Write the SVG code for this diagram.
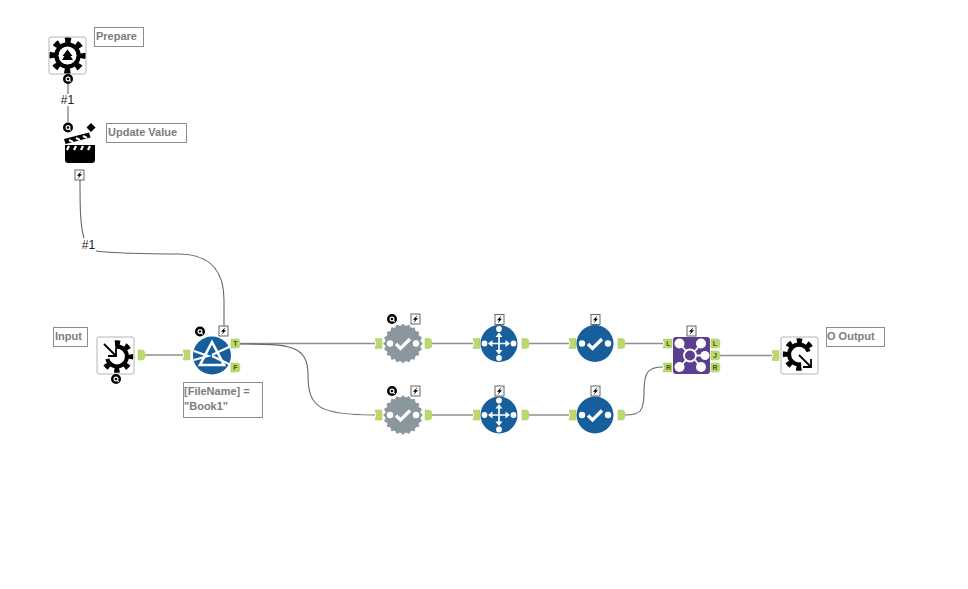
<svg xmlns="http://www.w3.org/2000/svg" width="968" height="589" viewBox="0 0 968 589">
<style>
.note{fill:#fff;stroke:#8c8c8c;stroke-width:1}
.notetext{font:bold 11px "Liberation Sans",sans-serif;fill:#7c7c7c}
.tile{fill:#fff;stroke:#b4b4b4;stroke-width:1}
.wire{fill:none;stroke:#8f8f8f;stroke-width:1.300}
.dark{stroke:#666;stroke-width:1.100}
.conn{fill:#bcd86f;stroke:#a9c85a;stroke-width:.5}
.ctext{font:bold 7px "Liberation Sans",sans-serif;fill:#3d5a12;text-anchor:middle}
.wl{font:12px "Liberation Sans",sans-serif;fill:#222;text-anchor:middle}
.blue{fill:#175e9c}
.grey{fill:#8b979f}
.w{stroke:#fff;fill:none;stroke-width:3.200}
.wf{fill:#fff}
</style>
<defs>
<g id="q"><circle r="5" fill="#000"/><circle r="1.900" fill="none" stroke="#fff" stroke-width="1.200"/><path d="M.8 .8L2.800 2.800" stroke="#fff" stroke-width="1.100"/></g>
<g id="bolt"><rect x="-4.500" y="-5" width="9" height="10" fill="#fff" stroke="#555" stroke-width=".9"/><path d="M2-4L-2.600 .8H-.3L-2 4L2.600-.8H.3Z" fill="#000"/></g>
<path id="in" d="M0-5H7V5H0L1.500 0Z" class="conn"/>
<path id="out" d="M0-5H4Q7-5 7 0Q7 5 4 5H0Z" class="conn"/>
<path id="tag" d="M0-4.600H6.500Q9-4.600 9 0Q9 4.600 6.500 4.600H0Z" class="conn"/>
<g id="check"><path d="M-7 .5L-2.500 5L7-4.500" class="w"/><circle cx="-13" r="3.200" class="wf"/><circle cx="13" r="3.200" class="wf"/></g>
<g id="hub"><g stroke="#fff" stroke-width="1.700" fill="none"><path d="M-10 0H10M0-10V10"/></g><path class="wf" d="M0-11L3.500-6.500H-3.500ZM0 11L3.500 6.500H-3.500ZM-11 0L-6.500-3.500V3.500ZM11 0L6.500-3.500V3.500Z"/><circle cx="-14.500" r="2.900" class="wf"/><circle cx="14.500" r="2.900" class="wf"/><circle cy="-14.500" r="2.900" class="wf"/><circle cy="14.500" r="2.900" class="wf"/></g>
<g id="cog" fill="none" stroke="#000"><circle r="11" stroke-width="4.500"/><circle r="15" stroke-width="6" stroke-dasharray="5.800 5.981" stroke-dashoffset="2.900"/></g>
<g id="badge"><circle r="18" class="grey"/><g class="grey"><circle r="1.600" cx="18" cy="0"/><circle r="1.600" cx="17.100" cy="5.600"/><circle r="1.600" cx="14.600" cy="10.600"/><circle r="1.600" cx="10.600" cy="14.600"/><circle r="1.600" cx="5.600" cy="17.100"/><circle r="1.600" cx="0" cy="18"/><circle r="1.600" cx="-5.600" cy="17.100"/><circle r="1.600" cx="-10.600" cy="14.600"/><circle r="1.600" cx="-14.600" cy="10.600"/><circle r="1.600" cx="-17.100" cy="5.600"/><circle r="1.600" cx="-18" cy="0"/><circle r="1.600" cx="-17.100" cy="-5.600"/><circle r="1.600" cx="-14.600" cy="-10.600"/><circle r="1.600" cx="-10.600" cy="-14.600"/><circle r="1.600" cx="-5.600" cy="-17.100"/><circle r="1.600" cx="0" cy="-18"/><circle r="1.600" cx="5.600" cy="-17.100"/><circle r="1.600" cx="10.600" cy="-14.600"/><circle r="1.600" cx="14.600" cy="-10.600"/><circle r="1.600" cx="17.100" cy="-5.600"/></g></g>
</defs>

<g id="connectors">
<path class="wire dark" d="M68 84V94M68 106V122"/>
<path class="wire dark" d="M80 180C80 205 80 225 84 238M96 251C120 254 150 254 180 254C212 255 224 272 224 300V326"/>
<path class="wire" d="M145 355H183"/>
<path class="wire" d="M240 343.500H375"/>
<path class="wire dark" d="M240 344C290 344 308 345 308 375C308 408 320 415 375 415"/>
<path class="wire" d="M432 343.500H473M529 343.500H569M625 343.500H663"/>
<path class="wire" d="M432 415H473M529 415H569"/>
<path class="wire dark" d="M625 415C640 415 644 412 644 392C644 372 648 367 663 367"/>
<path class="wire" d="M720 355.500H772"/>
<text class="wl" x="67.500" y="104">#1</text>
<text class="wl" x="88.500" y="249">#1</text>
</g>

<g id="prepare">
<rect class="tile" x="49" y="37" width="37" height="37" rx="2"/>
<use href="#cog" x="67.500" y="55.500"/>
<circle cx="67.500" cy="55.500" r="9" fill="#fff"/>
<path d="M67.500 49.500L72.500 56H70.500L73 60H62L64.500 56H62.500Z" fill="#000"/>
<use href="#q" x="68" y="79"/>
<rect class="note" x="94.500" y="27.500" width="49" height="19"/>
<text class="notetext" x="96" y="40">Prepare</text>
</g>

<g id="update-value">
<use href="#q" x="68" y="127.500"/>
<path d="M91 123L95.500 127.500 91 132 86.500 127.500Z" fill="#000"/>
<path d="M64 139L89 132.500 90.500 137.500 65.500 144Z" fill="#000"/>
<path d="M69 140L73 142M76 138L80 140M83 136L87 138" stroke="#fff" stroke-width="2"/>
<path d="M65 145H95V160Q95 163 92 163H68Q65 163 65 160Z" fill="#000"/>
<path d="M69 146L67 150M76 146L74 150M83 146L81 150M90 146L88 150" stroke="#fff" stroke-width="2.200"/>
<use href="#bolt" x="79.500" y="175"/>
<rect class="note" x="106.500" y="123.500" width="80" height="19"/>
<text class="notetext" x="108" y="136">Update Value</text>
</g>

<g id="input">
<rect class="note" x="53.500" y="327.500" width="34" height="19"/>
<text class="notetext" x="55" y="340">Input</text>
<rect class="tile" x="97" y="337" width="37" height="37" rx="2"/>
<g transform="translate(117 356.500) scale(.9)"><use href="#cog"/></g>
<path d="M117 356.500L99 361V339H114Z" fill="#fff"/>
<path d="M104 344L116 356M116 348V356H108" stroke="#000" stroke-width="1.800" fill="none"/>
<use href="#q" x="116" y="379"/>
<use href="#out" x="138" y="355"/>
</g>

<g id="filter">
<use href="#in" x="183" y="355"/>
<circle class="blue" cx="212" cy="355.500" r="19"/>
<path d="M212 342L224 365H200Z" fill="none" stroke="#fff" stroke-width="2.600"/>
<path d="M194 351L208 356 194 360M212 355L231 346M212 356L231 365" stroke="#fff" stroke-width="2.200" fill="none"/>
<use href="#q" x="200" y="331.500"/>
<use href="#bolt" x="223.500" y="331"/>
<use href="#tag" x="231" y="343.500"/><text class="ctext" x="235.500" y="346">T</text>
<use href="#tag" x="231" y="367.500"/><text class="ctext" x="235.500" y="370">F</text>
<rect class="note" x="183.500" y="382.500" width="79" height="35"/>
<text class="notetext" x="184" y="395">[FileName] =</text>
<text class="notetext" x="184" y="410">"Book1"</text>
</g>

<g id="test-top">
<use href="#in" x="375" y="343.500"/>
<use href="#badge" x="403" y="343.500"/>
<use href="#check" x="403" y="343.500"/>
<use href="#q" x="392" y="319"/>
<use href="#bolt" x="415.500" y="319"/>
<use href="#out" x="425" y="343.500"/>
</g>
<g id="test-bottom">
<use href="#in" x="375" y="415"/>
<use href="#badge" x="403" y="415"/>
<use href="#check" x="403" y="415"/>
<use href="#q" x="392" y="391"/>
<use href="#bolt" x="415.500" y="391"/>
<use href="#out" x="425" y="415"/>
</g>

<g id="select-top">
<use href="#in" x="473" y="343.500"/>
<circle class="blue" cx="499" cy="343.500" r="18.500"/>
<use href="#hub" x="499" y="343.500"/>
<use href="#bolt" x="499.500" y="319.500"/>
<use href="#out" x="522" y="343.500"/>
</g>
<g id="select-bottom">
<use href="#in" x="473" y="415"/>
<circle class="blue" cx="499" cy="415" r="18.500"/>
<use href="#hub" x="499" y="415"/>
<use href="#bolt" x="499.500" y="391"/>
<use href="#out" x="522" y="415"/>
</g>

<g id="check-top">
<use href="#in" x="569" y="343.500"/>
<circle class="blue" cx="595" cy="343.500" r="18.500"/>
<use href="#check" x="595" y="343.500"/>
<use href="#bolt" x="595.500" y="319.500"/>
<use href="#out" x="618" y="343.500"/>
</g>
<g id="check-bottom">
<use href="#in" x="569" y="415"/>
<circle class="blue" cx="595" cy="415" r="18.500"/>
<use href="#check" x="595" y="415"/>
<use href="#bolt" x="595.500" y="391"/>
<use href="#out" x="618" y="415"/>
</g>

<g id="join">
<path class="conn" d="M663 339H672V348H663L664.500 343.500Z"/><text class="ctext" x="668.500" y="346">L</text>
<path class="conn" d="M663 363H672V372H663L664.500 367.500Z"/><text class="ctext" x="668.500" y="370">R</text>
<rect x="673" y="337" width="37" height="37" rx="3" fill="#5b3f8e"/>
<g stroke="#fff" stroke-width="1.800" fill="none"><circle cx="690" cy="355.500" r="6"/><path d="M681 345L686 351M700 345L695 351M681 366L686 360M700 366L695 360M696 355.500H704"/></g>
<circle cx="679.500" cy="343.500" r="5" class="wf"/><circle cx="701" cy="343.500" r="5" class="wf"/><circle cx="679.500" cy="367" r="5" class="wf"/><circle cx="701" cy="367" r="5" class="wf"/><circle cx="705" cy="355.500" r="4.500" class="wf"/>
<use href="#bolt" x="691.500" y="331"/>
<use href="#tag" x="711" y="343.500"/><text class="ctext" x="715" y="346">L</text>
<use href="#tag" x="711" y="355.500"/><text class="ctext" x="715" y="358">J</text>
<use href="#tag" x="711" y="367.500"/><text class="ctext" x="715" y="370">R</text>
</g>

<g id="output">
<use href="#in" x="772" y="355.500"/>
<rect class="tile" x="781" y="337" width="37" height="37" rx="2"/>
<g transform="translate(799 354.500) scale(.9)"><use href="#cog"/></g>
<path d="M799 354.500L817 349V373H803Z" fill="#fff"/>
<path d="M799 355L811 367M811 359V367H803" stroke="#000" stroke-width="1.800" fill="none"/>
<rect class="note" x="826.500" y="327.500" width="58" height="19"/>
<text class="notetext" x="827" y="340">O Output</text>
</g>
</svg>
